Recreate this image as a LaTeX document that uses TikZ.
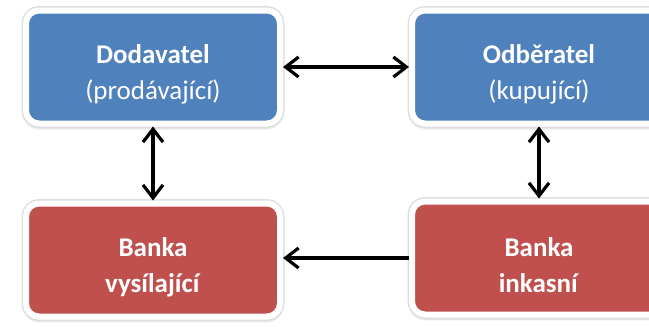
\documentclass[tikz,border=0pt]{standalone}
\usepackage{fontspec}
\setmainfont{Carlito}
\usetikzlibrary{arrows.meta,shadows.blur}
\definecolor{boxblue}{HTML}{4F81BD}
\definecolor{boxred}{HTML}{C0504D}
\newcommand{\topgap}{\rule{0pt}{34pt}}
\begin{document}
\begin{tikzpicture}[x=1pt,y=-1pt,
  box/.style={rounded corners=13pt, minimum width=254pt, minimum height=113pt,
    draw=white, line width=6pt, text=white, align=center,
    font=\fontsize{27}{36}\selectfont,
    blur shadow={shadow xshift=0pt, shadow yshift=-2.5pt, shadow blur radius=4pt, shadow opacity=55},
    preaction={draw=black!13, line width=9pt}},
  bluebox/.style={box, fill=boxblue},
  redbox/.style={box, fill=boxred},
  conn/.style={line width=3.2pt, black, -{Straight Barb[length=13pt,width=20pt]}},
  conn2/.style={line width=3.2pt, black, {Straight Barb[length=13pt,width=20pt]}-{Straight Barb[length=13pt,width=20pt]}}]
\useasboundingbox (0,0) rectangle (649,327);
\clip (0,0) rectangle (649,327);
\node[bluebox] (dod) at (153,67) {\topgap\textbf{Dodavatel}\\(prodávající)};
\node[bluebox] (odb) at (539,67) {\topgap\textbf{Odběratel}\\(kupující)};
\node[redbox] (bv) at (153,260) {\topgap\textbf{Banka}\\\textbf{vysílající}};
\node[redbox] (bi) at (539,258) {\topgap\textbf{Banka}\\\textbf{inkasní}};
\draw[conn2] (dod.east) -- (odb.west);
\draw[conn2] (dod.south) -- (bv.north);
\draw[conn2] (odb.south) -- (bi.north);
\draw[conn] (bi.west) -- (bi.west -| bv.east);
\end{tikzpicture}
\end{document}
